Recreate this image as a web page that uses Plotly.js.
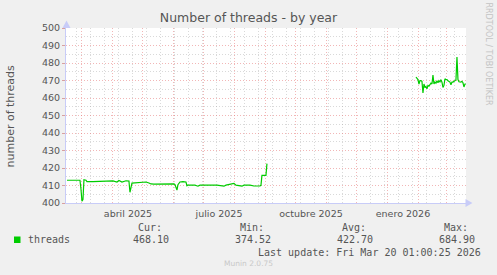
<!DOCTYPE html>
<html>
<head>
<meta charset="utf-8">
<script src="https://cdn.plot.ly/plotly-3.0.1.min.js"></script>
<style>html,body{margin:0;padding:0;background:#F0F0F0;}#chart{width:497px;height:275px;}</style>
</head>
<body>
<div id="chart"></div>
<script>
// ---- data ----
const dates1 = ['2025-02-14','2025-02-19','2025-02-20','2025-02-21','2025-02-27','2025-02-28','2025-03-01','2025-03-02','2025-03-03','2025-03-05','2025-03-06','2025-03-12','2025-03-18','2025-03-24','2025-03-27','2025-03-30','2025-04-01','2025-04-05','2025-04-07','2025-04-10','2025-04-14','2025-04-17','2025-04-18','2025-04-20','2025-04-24','2025-04-29','2025-05-01','2025-05-04','2025-05-07','2025-05-09','2025-05-12','2025-05-18','2025-05-24','2025-05-29','2025-06-01','2025-06-02','2025-06-04','2025-06-05','2025-06-07','2025-06-10','2025-06-13','2025-06-14','2025-06-15','2025-06-22','2025-06-25','2025-06-27','2025-07-07','2025-07-14','2025-07-21','2025-07-23','2025-07-31','2025-08-02','2025-08-08','2025-08-10','2025-08-16','2025-08-20','2025-08-26','2025-08-27','2025-08-28','2025-09-01','2025-09-02'];
const values1 = [413.0,413.0,412.6,413.0,413.0,408.0,401.0,402.0,413.3,413.0,412.2,412.2,412.2,412.2,412.4,412.6,412.6,412.0,412.9,412.0,412.7,412.5,406.1,411.4,411.6,411.6,411.8,412.0,411.4,410.9,410.8,410.9,411.0,410.8,410.9,410.5,407.4,410.5,412.0,412.2,412.0,409.9,410.3,410.2,409.6,410.2,410.2,410.2,409.6,410.2,411.2,410.2,409.6,410.2,410.2,409.7,409.7,410.1,415.8,415.8,422.5];
const dates2 = ['2026-01-29','2026-01-30','2026-01-31','2026-02-01','2026-02-02','2026-02-03','2026-02-04','2026-02-05','2026-02-06','2026-02-07','2026-02-08','2026-02-09','2026-02-10','2026-02-11','2026-02-12','2026-02-13','2026-02-14','2026-02-15','2026-02-16','2026-02-17','2026-02-18','2026-02-19','2026-02-20','2026-02-21','2026-02-22','2026-02-23','2026-02-24','2026-02-25','2026-02-26','2026-02-27','2026-02-28','2026-03-01','2026-03-02','2026-03-03','2026-03-04','2026-03-05','2026-03-06','2026-03-07','2026-03-08','2026-03-09','2026-03-10','2026-03-11','2026-03-12','2026-03-13','2026-03-14','2026-03-15','2026-03-16','2026-03-17','2026-03-18','2026-03-19','2026-03-20'];
const values2 = [472.0,471.4,470.5,468.0,469.9,469.9,469.5,462.9,468.0,466.0,466.6,465.3,467.2,466.8,467.5,468.5,468.0,473.1,468.0,469.1,468.5,469.9,468.7,469.9,469.1,470.5,469.0,466.0,467.2,471.0,470.5,470.5,469.9,469.5,469.1,467.6,469.1,469.1,469.5,470.3,470.3,483.4,470.5,469.3,469.1,469.1,469.5,468.7,466.3,468.0,468.0];
const seriesName = 'threads';
const monthTickVals = ['2025-04-16','2025-07-16','2025-10-16','2026-01-16'];
const monthTickText = ['abril 2025','julio 2025','octubre 2025','enero 2026'];
const statLabels = ['Cur:','Min:','Avg:','Max:'];
const statValues = ['468.10','374.52','422.70','684.90'];
const chartTitle = 'Number of threads - by year';
const yTitle = 'number of threads';
const lastUpdate = 'Last update: Fri Mar 20 01:00:25 2026';
const footer = 'Munin 2.0.75';
const sideText = 'RRDTOOL / TOBI OETIKER';

// ---- geometry helpers ----
const L = 66, R = 466, T = 28, B = 203;
const px = x => (x - L) / (R - L);
const py = y => (B - y) / (B - T);
const xRange = ['2025-02-13 01:00', '2026-03-20 01:00'];
const green = '#00CC00';
const mgrid = 'rgba(230,110,110,0.5)';
const grid = 'rgba(160,160,160,0.4)';
const dotted = '1px,2px';
const txt = '#555';

const traces = [
  {x: dates1, y: values1, type: 'scatter', mode: 'lines', name: seriesName, line: {color: green, width: 1.2}, hoverinfo: 'skip', showlegend: false},
  {x: dates2, y: values2, type: 'scatter', mode: 'lines', name: seriesName, line: {color: green, width: 1.2}, hoverinfo: 'skip', showlegend: false},
  // invisible copy that anchors the label axis
  {x: dates1, y: values1, xaxis: 'x2', type: 'scatter', mode: 'lines', line: {width: 0}, opacity: 0, hoverinfo: 'skip', showlegend: false}
];

const colRightHead = [163.5, 265.5, 367.5, 469.5];
const colRightVal = [170.5, 272.5, 374.5, 476.5];
const mono = {family: 'DejaVu Sans Mono', size: 10, color: txt};
const annotations = [
  {text: yTitle, xref: 'paper', yref: 'paper', x: px(10), y: py(115.5), textangle: -90, showarrow: false, xanchor: 'center', yanchor: 'middle', font: {family: 'DejaVu Sans', size: 11, color: txt}},
  {text: sideText, xref: 'paper', yref: 'paper', x: px(488.5), y: py(54), textangle: 90, showarrow: false, xanchor: 'center', yanchor: 'middle', font: {family: 'DejaVu Sans', size: 8, color: '#c4c4c4'}},
  {text: seriesName, xref: 'paper', yref: 'paper', x: px(26), y: py(239.5), showarrow: false, xanchor: 'left', yanchor: 'middle', font: mono},
  {text: lastUpdate, xref: 'paper', yref: 'paper', x: px(483), y: py(252), showarrow: false, xanchor: 'right', yanchor: 'middle', font: mono},
  {text: footer, xref: 'paper', yref: 'paper', x: px(248), y: py(263.5), showarrow: false, xanchor: 'center', yanchor: 'middle', font: {family: 'DejaVu Sans', size: 7.5, color: '#c8c8c8'}}
];
statLabels.forEach((s, i) => {
  annotations.push({text: s, xref: 'paper', yref: 'paper', x: px(colRightHead[i]), y: py(227), showarrow: false, xanchor: 'right', yanchor: 'middle', font: mono});
  annotations.push({text: statValues[i], xref: 'paper', yref: 'paper', x: px(colRightVal[i]), y: py(239.5), showarrow: false, xanchor: 'right', yanchor: 'middle', font: mono});
});

const axisBlue = '#c8ccf8';
const shapes = [
  {type: 'rect', xref: 'paper', yref: 'paper', x0: px(14), x1: px(20.5), y0: py(243), y1: py(236.5), fillcolor: green, line: {width: 0}},
  {type: 'path', xref: 'paper', yref: 'paper', path: `M ${px(66.5)} ${py(20.5)} L ${px(62.5)} ${py(28)} L ${px(70.5)} ${py(28)} Z`, fillcolor: axisBlue, line: {width: 0}},
  {type: 'path', xref: 'paper', yref: 'paper', path: `M ${px(472.5)} ${py(203)} L ${px(465.5)} ${py(199)} L ${px(465.5)} ${py(207)} Z`, fillcolor: axisBlue, line: {width: 0}}
];

const layout = {
  width: 497, height: 275,
  paper_bgcolor: '#F0F0F0', plot_bgcolor: '#FFFFFF',
  margin: {l: L, r: 497 - R, t: T, b: 275 - B, pad: 0},
  title: {text: chartTitle, x: 0.5, xref: 'container', xanchor: 'center', y: 1 - 18 / 275, yref: 'container', yanchor: 'middle', font: {family: 'DejaVu Sans', size: 12.5, color: txt}},
  showlegend: false,
  xaxis: {
    type: 'date', range: xRange, fixedrange: true,
    tickmode: 'linear', tick0: '2025-03-01', dtick: 'M1',
    showticklabels: false, ticks: '',
    showgrid: true, gridcolor: mgrid, griddash: dotted, gridwidth: 1,
    minor: {tick0: '2025-02-24', dtick: 14 * 86400000, showgrid: true, gridcolor: grid, griddash: dotted, gridwidth: 1, ticks: ''},
    showline: true, linecolor: axisBlue, linewidth: 1, zeroline: false
  },
  xaxis2: {
    type: 'date', range: xRange, fixedrange: true, overlaying: 'x', anchor: 'y', side: 'bottom',
    tickmode: 'array', tickvals: monthTickVals, ticktext: monthTickText,
    showgrid: false, zeroline: false, showline: false, ticks: '', ticklabelstandoff: 3,
    tickfont: {family: 'DejaVu Sans', size: 9.5, color: txt}
  },
  yaxis: {
    range: [400, 500], fixedrange: true, tickmode: 'linear', tick0: 400, dtick: 10,
    showgrid: true, gridcolor: mgrid, griddash: dotted, gridwidth: 1,
    minor: {dtick: 5, showgrid: true, gridcolor: grid, griddash: dotted, gridwidth: 1, ticks: ''},
    ticks: 'outside', ticklen: 3, tickcolor: '#d8a0a0',
    showline: true, linecolor: axisBlue, linewidth: 1, zeroline: false,
    tickfont: {family: 'DejaVu Sans', size: 9.5, color: txt}
  },
  annotations: annotations,
  shapes: shapes
};

Plotly.newPlot('chart', traces, layout, {staticPlot: true, displayModeBar: false});
</script>
</body>
</html>
